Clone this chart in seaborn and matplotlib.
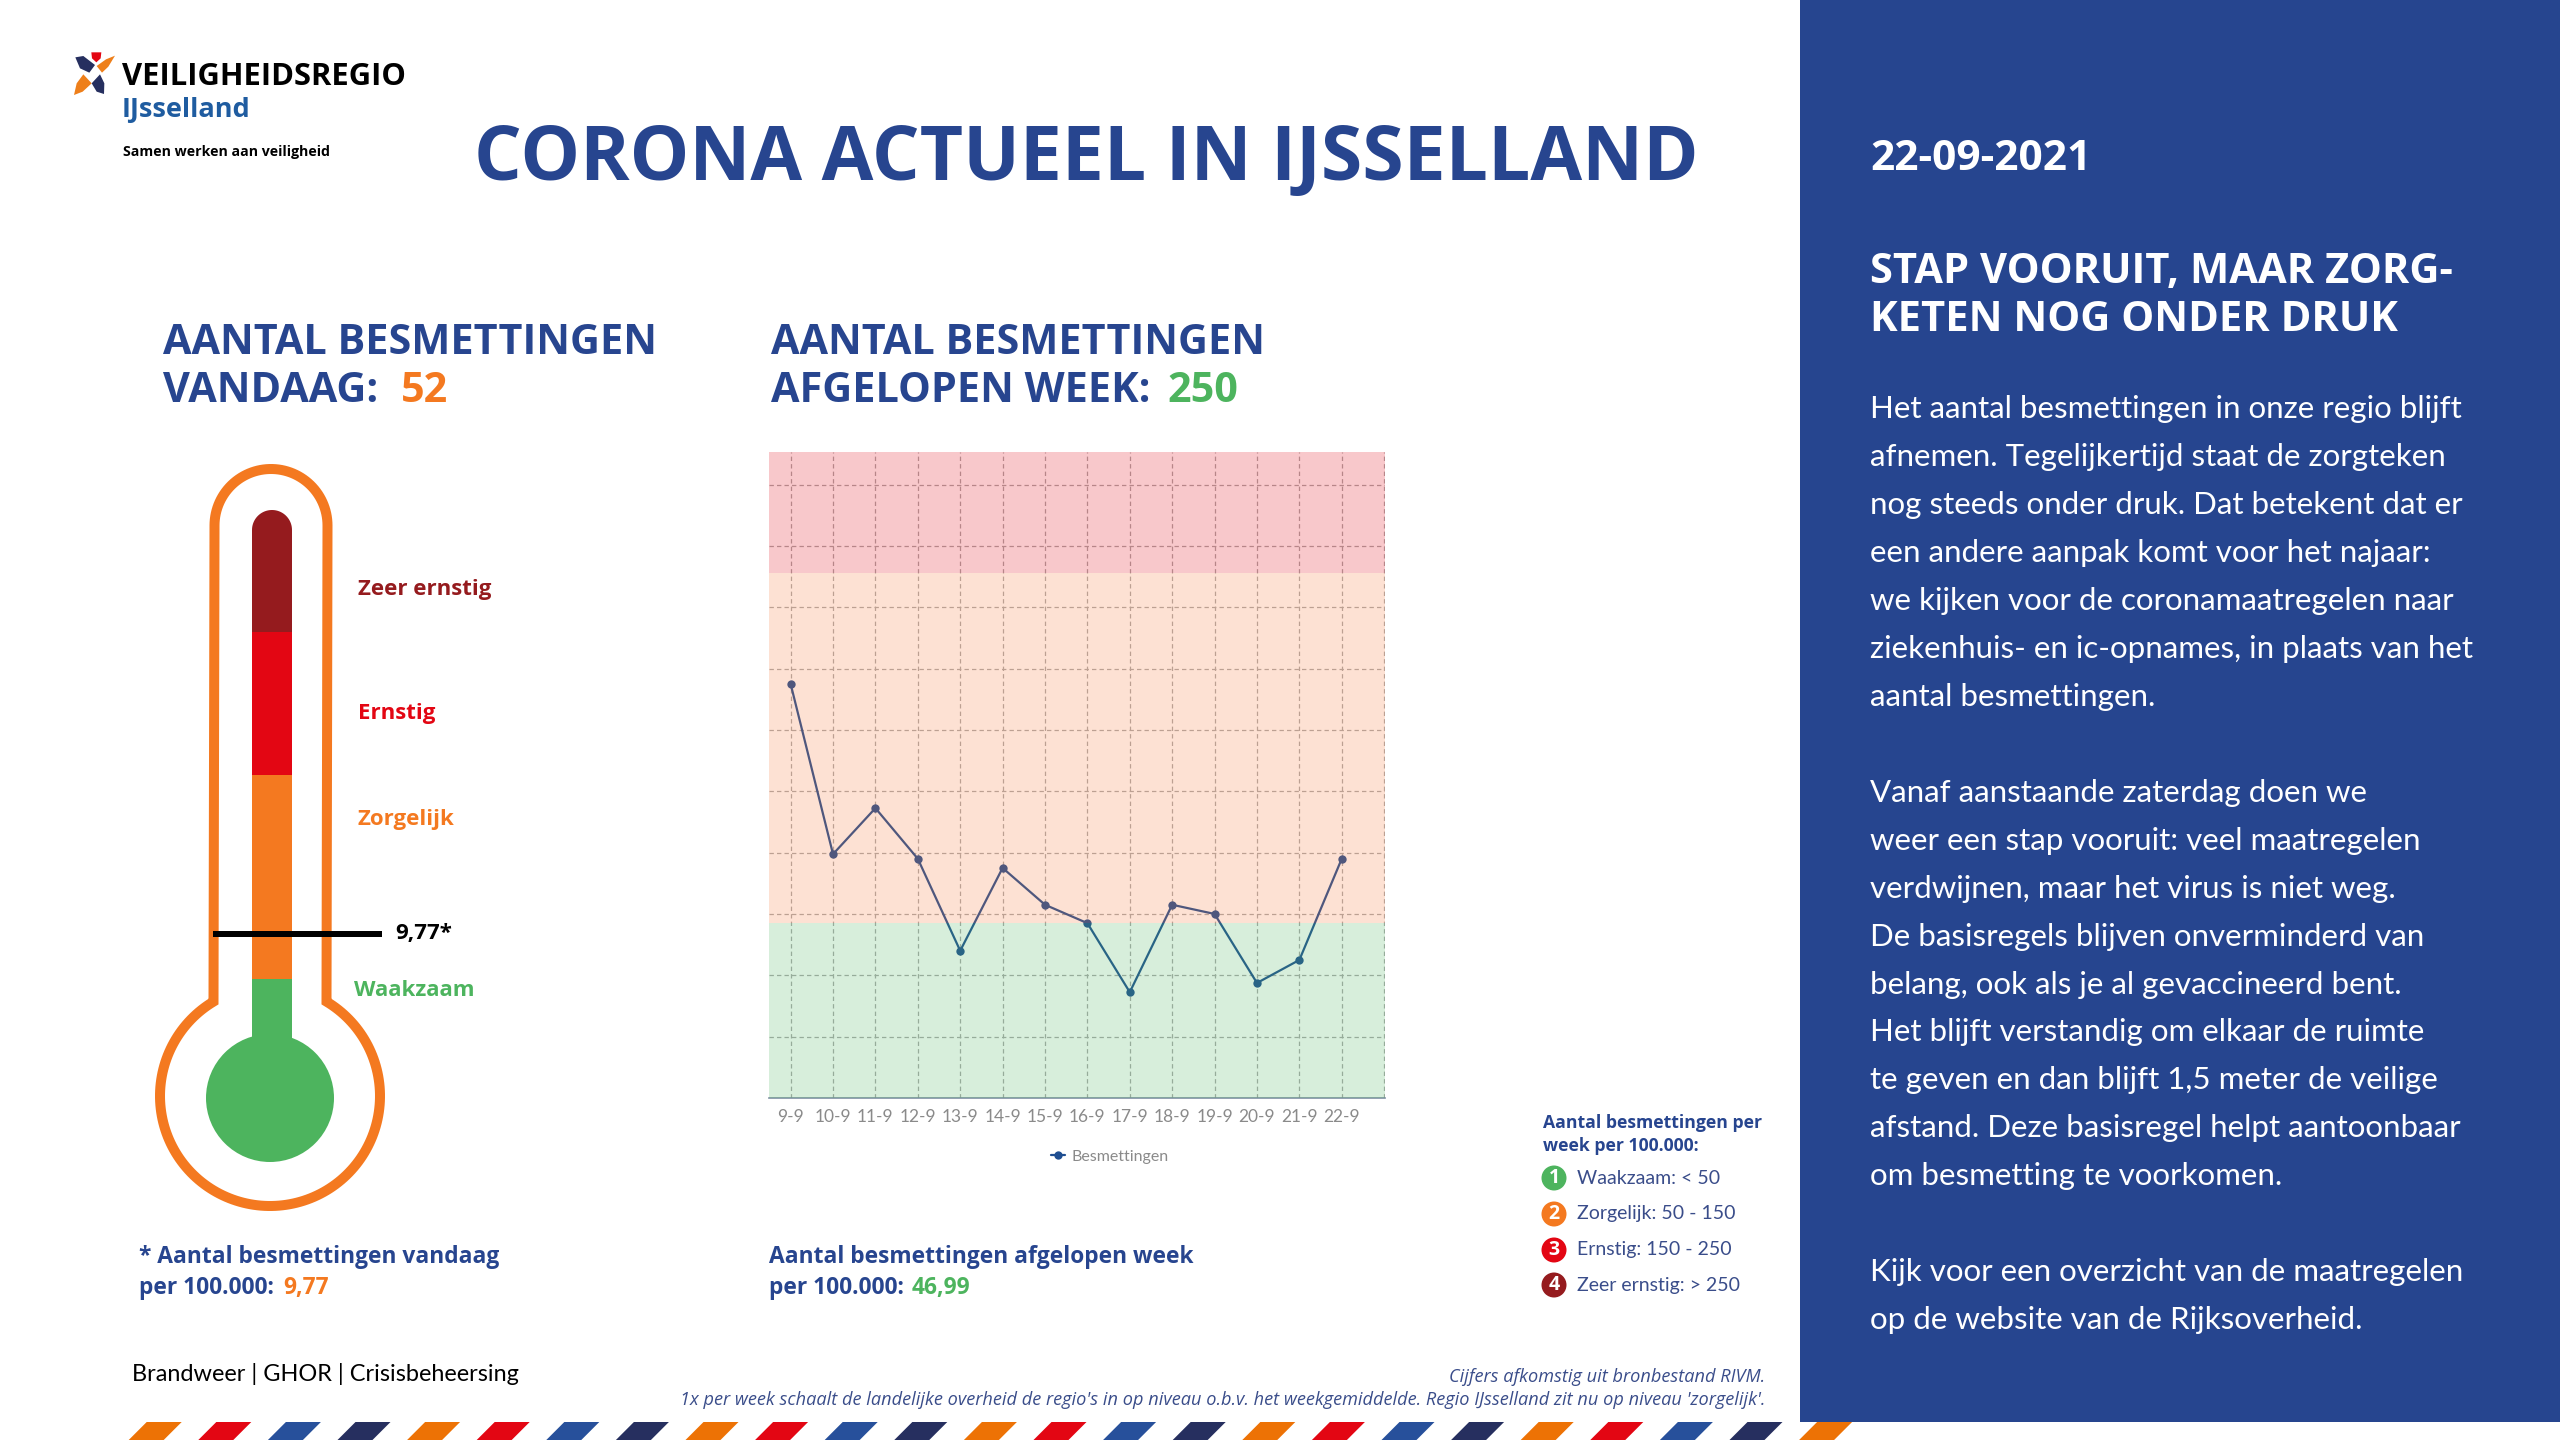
import numpy as np
import pandas as pd
import matplotlib
matplotlib.use("Agg")
import matplotlib.pyplot as plt
import seaborn as sns
from matplotlib.patches import Circle, Polygon, Rectangle

# chart values
dates = ["9-9", "10-9", "11-9", "12-9", "13-9", "14-9", "15-9", "16-9", "17-9", "18-9", "19-9", "20-9", "21-9", "22-9"]
besmettingen = [90, 53, 63, 52, 32, 50, 42, 38, 23, 42, 40, 25, 30, 52]
green_top = 38
orange_top = 114
y_max = 140.4
grid_step = 40 / 3

# texts
body_lines = [
    "Het aantal besmettingen in onze regio blijft",
    "afnemen. Tegelijkertijd staat de zorgteken",
    "nog steeds onder druk. Dat betekent dat er",
    "een andere aanpak komt voor het najaar:",
    "we kijken voor de coronamaatregelen naar",
    "ziekenhuis- en ic-opnames, in plaats van het",
    "aantal besmettingen.",
    "",
    "Vanaf aanstaande zaterdag doen we",
    "weer een stap vooruit: veel maatregelen",
    "verdwijnen, maar het virus is niet weg.",
    "De basisregels blijven onverminderd van",
    "belang, ook als je al gevaccineerd bent.",
    "Het blijft verstandig om elkaar de ruimte",
    "te geven en dan blijft 1,5 meter de veilige",
    "afstand. Deze basisregel helpt aantoonbaar",
    "om besmetting te voorkomen.",
    "",
    "Kijk voor een overzicht van de maatregelen",
    "op de website van de Rijksoverheid.",
]
level_names = ["Waakzaam: < 50", "Zorgelijk: 50 - 150", "Ernstig: 150 - 250", "Zeer ernstig: > 250"]

BLUE = "#27458F"
PANEL = "#26458F"
ORANGE = "#F47920"
RED = "#E30613"
DARKRED = "#951B1E"
GREEN = "#4DB45E"
NAVY = "#262F5F"
TEXTBLUE = "#3A4D8A"

sns.set_theme(style="white")
plt.rcParams["font.family"] = ["Open Sans", "DejaVu Sans"]

fig = plt.figure(figsize=(25.6, 14.4), dpi=100)
fig.patch.set_facecolor("white")

# full figure layer in pixels for everything around the chart
bg = fig.add_axes([0, 0, 1, 1])
bg.set_xlim(0, 2560)
bg.set_ylim(1440, 0)
bg.axis("off")


def two_part(x, y, first, second, color2, gap=0, **kw):
    # second part of a line in another colour, placed after the first part
    renderer = fig.canvas.get_renderer()
    t = bg.text(x, y, first + second, alpha=0, **kw)
    w_full = t.get_window_extent(renderer).width
    t.set_text(second)
    w_second = t.get_window_extent(renderer).width
    t.remove()
    bg.text(x, y, first, **kw)
    kw2 = dict(kw)
    kw2["color"] = color2
    bg.text(x + w_full - w_second + gap, y, second, **kw2)


# right panel
bg.add_patch(Rectangle((1800, 0), 760, 1422, color=PANEL, lw=0))
bg.text(1870, 170, "22-09-2021", color="white", fontsize=30.5, fontweight="bold")
bg.text(1870, 283, "STAP VOORUIT, MAAR ZORG-", color="white", fontsize=30, fontweight="bold")
bg.text(1870, 331, "KETEN NOG ONDER DRUK", color="white", fontsize=30, fontweight="bold")
for i, line in enumerate(body_lines):
    bg.text(1870, 418 + i * 47.96, line, color="white", fontsize=22.5, family="Lato")

# logo
def zoom_pts(pts):
    return [(px / 3, 20 + py / 3) for px, py in pts]


bg.add_patch(Polygon(zoom_pts([(226, 112), (250, 108), (285, 135), (268, 158), (240, 145)]), color=NAVY, lw=0))
bg.add_patch(Polygon(zoom_pts([(345, 107), (325, 140), (306, 158), (290, 138), (318, 118)]), color="#EE7F1A", lw=0))
bg.add_patch(Polygon(zoom_pts([(222, 225), (230, 190), (250, 163), (275, 190), (248, 215)]), color="#EE7F1A", lw=0))
bg.add_patch(Polygon(zoom_pts([(312, 222), (290, 215), (275, 190), (300, 163), (313, 190)]), color=NAVY, lw=0))
bg.add_patch(Polygon(zoom_pts([(274, 97), (304, 97), (302, 115), (289, 127), (276, 115)]), color=RED, lw=0))
bg.text(122, 85, "VEILIGHEIDSREGIO", color="black", fontsize=22.3, fontweight="bold")
bg.text(122, 117, "IJsselland", color="#1F5CA0", fontsize=19.5, fontweight="bold")
bg.text(123, 156, "Samen werken aan veiligheid", color="black", fontsize=10.2, fontweight="bold")

# titles
bg.text(474, 180, "CORONA ACTUEEL IN IJSSELLAND", color=BLUE, fontsize=54, fontweight="bold")
head = dict(color=BLUE, fontsize=29.8, fontweight="bold")
bg.text(163, 354, "AANTAL BESMETTINGEN", **head)
two_part(163, 402, "VANDAAG: ", "52", ORANGE, gap=12, **head)
bg.text(771, 354, "AANTAL BESMETTINGEN", **head)
two_part(771, 402, "AFGELOPEN WEEK: ", "250", GREEN, gap=6, **head)

# thermometer outline, arc on top of the tube and the large bulb circle
cx, tube_r, top_y = 271, 56.5, 469
bulb_cy, bulb_r = 1096, 110
join = np.arcsin(tube_r / bulb_r)
top_arc = np.linspace(np.pi, 0, 60)
bulb_arc = np.linspace(np.pi / 2 - join, -3 * np.pi / 2 + join, 160)
xs = np.concatenate([cx + tube_r * np.cos(top_arc), cx - 1 + bulb_r * np.cos(bulb_arc)])
ys = np.concatenate([top_y + tube_r - tube_r * np.sin(top_arc), bulb_cy - bulb_r * np.sin(bulb_arc)])
bg.add_patch(Polygon(np.column_stack([xs, ys]), closed=True, facecolor="white", edgecolor=ORANGE, lw=7.2, joinstyle="miter"))

# thermometer column
col_x, col_w = 252, 40
top_cap = np.linspace(np.pi, 0, 40)
cap_pts = np.column_stack([col_x + col_w / 2 + col_w / 2 * np.cos(top_cap), 530 - 20 * np.sin(top_cap)])
bg.add_patch(Polygon(np.vstack([cap_pts, [[col_x + col_w, 632], [col_x, 632]]]), color=DARKRED, lw=0))
bg.add_patch(Rectangle((col_x, 632), col_w, 143, color=RED, lw=0))
bg.add_patch(Rectangle((col_x, 775), col_w, 204, color=ORANGE, lw=0))
bg.add_patch(Rectangle((col_x, 979), col_w, 70, color=GREEN, lw=0))
bg.add_patch(Circle((270, 1098), 64, color=GREEN, lw=0))
bg.add_patch(Rectangle((213, 931), 169, 6, color="black", lw=0))

label = dict(fontsize=16, fontweight="bold", va="center")
bg.text(358, 589, "Zeer ernstig", color=DARKRED, **label)
bg.text(358, 713, "Ernstig", color=RED, **label)
bg.text(358, 820, "Zorgelijk", color=ORANGE, **label)
bg.text(354, 991, "Waakzaam", color=GREEN, **label)
bg.text(395, 934, "9,77*", color="black", **label)

# footnotes under thermometer and chart
note = dict(color=BLUE, fontsize=16.4, fontweight="bold")
bg.text(139, 1263, "* Aantal besmettingen vandaag", **note)
two_part(139, 1294, "per 100.000: ", "9,77", ORANGE, gap=3, **note)
bg.text(769, 1263, "Aantal besmettingen afgelopen week", **note)
two_part(769, 1294, "per 100.000: ", "46,99", GREEN, gap=2, **note)

# level legend
bg.text(1543, 1128, "Aantal besmettingen per", color=BLUE, fontsize=12.7, fontweight="bold")
bg.text(1543, 1151, "week per 100.000:", color=BLUE, fontsize=12.7, fontweight="bold")
level_colors = [GREEN, ORANGE, RED, DARKRED]
level_y = [1178, 1214, 1250, 1285]
for i, (name, col, yy) in enumerate(zip(level_names, level_colors, level_y)):
    bg.add_patch(Circle((1554, yy), 12.5, color=col, lw=0))
    bg.text(1554, yy, str(i + 1), color="white", fontsize=14, fontweight="bold", ha="center", va="center")
    bg.text(1577, yy, name, color=TEXTBLUE, fontsize=14, va="center", family="Lato")

# footer
bg.text(132, 1381, "Brandweer | GHOR | Crisisbeheersing", color="black", fontsize=16.9, family="Lato")
bg.text(1765, 1382, "Cijfers afkomstig uit bronbestand RIVM.", color=TEXTBLUE, fontsize=13.1, style="italic", ha="right")
bg.text(1765, 1405, "1x per week schaalt de landelijke overheid de regio's in op niveau o.b.v. het weekgemiddelde. Regio IJsselland zit nu op niveau 'zorgelijk'.",
        color=TEXTBLUE, fontsize=13.1, style="italic", ha="right")

# airmail stripes at the bottom
stripe_colors = ["#ED7205", RED, "#27509B", NAVY]
for i in range(25):
    x0 = 128.7 + i * 69.6
    bg.add_patch(Polygon([(x0, 1440), (x0 + 35, 1440), (x0 + 53, 1422), (x0 + 18, 1422)], color=stripe_colors[i % 4], lw=0))

# the chart itself
ax = fig.add_axes([769 / 2560, 1 - 1098 / 1440, (1385 - 769) / 2560, (1098 - 452) / 1440])
ax.set_facecolor("none")
df = pd.DataFrame({"x": range(len(dates)), "Besmettingen": besmettingen})
sns.lineplot(data=df, x="x", y="Besmettingen", ax=ax, color="#1F4E91", lw=1.6, marker="o",
             markersize=6, markeredgewidth=0, label="Besmettingen", zorder=3)

# bands go over the line and the grid, that is why the line changes colour
ax.axhspan(0, green_top, color=GREEN, alpha=0.22, lw=0, zorder=5)
ax.axhspan(green_top, orange_top, color="#FA7A3A", alpha=0.22, lw=0, zorder=5)
ax.axhspan(orange_top, y_max, color=RED, alpha=0.22, lw=0, zorder=5)

ax.set_xlim(-0.51, 14.02)
ax.set_ylim(0, y_max)
ax.set_xticks(range(len(dates)))
ax.set_xticklabels(dates, family="Lato", fontsize=12.5, color="#8A8A8A")
ax.set_yticks(np.arange(1, 11) * grid_step)
ax.set_yticklabels([])
ax.tick_params(length=0, pad=8)
ax.set_xlabel("")
ax.set_ylabel("")

# vertical grid has one more line than there are dates
for xv in range(len(dates) + 1):
    ax.axvline(xv, color="#ABABAB", lw=0.9, ls=(0, (3.5, 2.5)), zorder=1)
ax.grid(axis="y", color="#ABABAB", lw=0.9, ls=(0, (3.5, 2.5)), zorder=1)
ax.set_axisbelow(True)
for side in ["top", "left", "right"]:
    ax.spines[side].set_visible(False)
ax.spines["bottom"].set_color("#7F8FA3")
ax.spines["bottom"].set_linewidth(1.2)

ax.legend(loc="center", bbox_to_anchor=(0.553, -0.091), frameon=False, handlelength=0.9, handletextpad=0.35,
          prop={"family": "Lato", "size": 11.5}, labelcolor="#8A8A8A")

plt.savefig("out.png", dpi=100)
plt.close()
